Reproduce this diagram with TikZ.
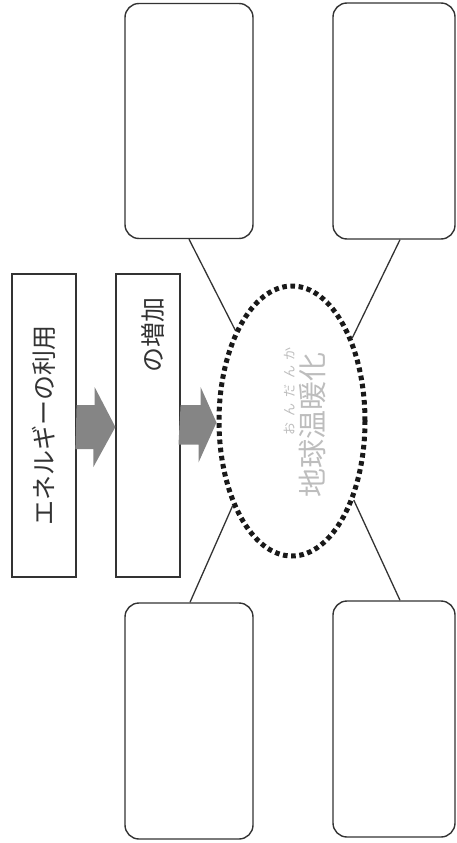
\documentclass[tikz,border=0pt]{standalone}
\usepackage{fontspec}
\setmainfont{Noto Sans CJK JP}
\usetikzlibrary{shapes.geometric,calc,positioning}
\definecolor{LineGray}{HTML}{333333}
\definecolor{ArrowGray}{HTML}{858585}
\definecolor{WarmGray}{HTML}{BDBDBD}
\tikzset{
    % Base node style
    basenode/.style={
        draw=LineGray,
        fill=white,
        line width=1.2pt,
        inner sep=0pt,
        align=center
    },
    % Label box (plain rectangle)
    labelbox/.style={
        basenode,
        minimum width=64pt,
        minimum height=303pt
    },
    % Empty answer box
    memobox/.style={
        basenode,
        line width=1.4pt,
        rounded corners=14pt,
        minimum width=128pt,
        minimum height=235pt
    },
    % Dotted ellipse
    warmnode/.style={
        ellipse,
        draw=black!90,
        line width=5pt,
        dash pattern=on 4.6pt off 3.6pt,
        minimum width=146pt,
        minimum height=270pt,
        inner sep=0pt
    },
    % Text styles
    boxtext/.style={
        rotate=90,
        inner sep=0pt,
        text=LineGray,
        font=\fontsize{25}{28}\selectfont
    },
    warmtext/.style={
        rotate=90,
        inner sep=0pt,
        text=WarmGray,
        font=\fontsize{29}{32}\selectfont
    },
    rubytext/.style={
        rotate=90,
        inner sep=0pt,
        text=WarmGray,
        font=\fontsize{13}{15}\selectfont
    },
    % Block arrow
    blockarrow/.style={
        fill=ArrowGray
    },
    % Straight link
    link/.style={
        line width=1.3pt,
        draw=LineGray
    }
}
\begin{document}
\begin{tikzpicture}[x=1pt, y=-1pt]
    \useasboundingbox (0,0) rectangle (457,843);

    \node[labelbox] (use) at (44,425.5) {};
    \node[labelbox] (inc) at (148,425.5) {};
    \node[warmnode] (warm) at (292,421) {};

    \node[boxtext] (usetext) at (use.center) {エネルギーの利用};
    \node[boxtext, anchor=east] (inctext) at (153,297) {の増加};
    \node[warmtext] (warmlabel) at (313,425) {地球温暖化};
    \node[rubytext] (ruby) at (290,391) {\makebox[88pt][s]{お\hfill ん\hfill だ\hfill ん\hfill か}};

    \node[memobox] (tl) at (189,121) {};
    \node[memobox, minimum width=122pt, minimum height=236pt] (tr) at (394,121) {};
    \node[memobox, minimum height=236pt] (bl) at (189,721) {};
    \node[memobox, minimum width=122pt, minimum height=236pt] (br) at (394,719) {};

    \fill[blockarrow] ([yshift=-1.5pt]use.east) ++(0,-22) -- ++(18,0) -- ++(0,-18)
        -- ([yshift=-1.5pt]inc.west) -- ++(-22,40) -- ++(0,-18) -- ++(-18,0) -- cycle;
    \fill[blockarrow] ([yshift=-1.5pt]inc.east) ++(0,-22) -- ++(20,0) -- ++(0,-18)
        -- ([yshift=-1.5pt]warm.west) -- ++(-18,40) -- ++(0,-18) -- ++(-20,0) -- cycle;

    \draw[link] (tl.south) -- (warm.122);
    \draw[link] ([xshift=6pt]tr.south) -- (warm.54);
    \draw[link] ([xshift=1pt]bl.north) -- (warm.235);
    \draw[link] ([xshift=6pt]br.north) -- (warm.308);
\end{tikzpicture}
\end{document}
